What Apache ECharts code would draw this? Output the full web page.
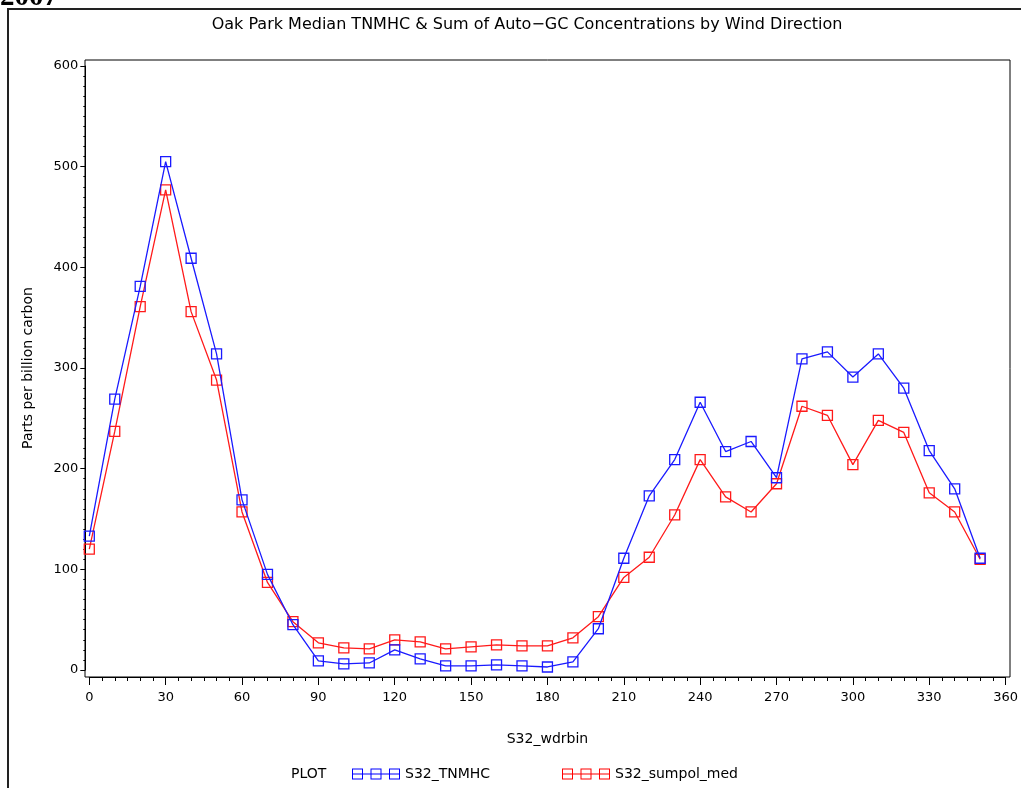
<!DOCTYPE html>
<html>
<head>
<meta charset="utf-8">
<script src="https://cdn.jsdelivr.net/npm/echarts@6/dist/echarts.min.js"></script>
<style>
html,body{margin:0;padding:0;background:#fff;}
#chart{width:1021px;height:788px;}
</style>
</head>
<body>
<div id="chart"></div>
<script>
// Wind direction bins (degrees)
var wdrbin = [0,10,20,30,40,50,60,70,80,90,100,110,120,130,140,150,160,170,180,190,200,210,220,230,240,250,260,270,280,290,300,310,320,330,340,350];
// S32_TNMHC median (ppbC)
var tnmhc = [133,269,381,505,409,314,169,95,45,9,6,7,20,11,4,4,5,4,3,8,41,111,173,209,266,217,227,191,309,316,291,314,280,218,180,111];
// S32_sumpol_med (ppbC)
var sumpol = [120,237,361,477,356,288,157,87,48,27,22,21,30,28,21,23,25,24,24,32,53,92,112,154,209,172,157,185,262,253,204,248,236,176,157,110];
var xTicks = [0,30,60,90,120,150,180,210,240,270,300,330,360];
var yTicks = [0,100,200,300,400,500,600];
var titleText = 'Oak Park Median TNMHC & Sum of Auto\u2212GC Concentrations by Wind Direction';
var seriesNames = ['S32_TNMHC','S32_sumpol_med'];

function pairs(xs, ys){ return xs.map(function(x,i){ return [x, ys[i]]; }); }

// legend icon: line with three hollow squares (48 x 11)
function iconPath(){
  var p = 'path://M0 5h48v1h-48z';
  [0,18.5,37].forEach(function(x0){
    p += 'M'+x0+' 0h11v1h-11z';
    p += 'M'+x0+' 10h11v1h-11z';
    p += 'M'+x0+' 0h1v11h-1z';
    p += 'M'+(x0+10)+' 0h1v11h-1z';
  });
  return p;
}

var FONT = 'DejaVu Sans';
var chart = echarts.init(document.getElementById('chart'), null, {renderer:'canvas'});
var option = {
  backgroundColor:'#fff',
  animation:false,
  title:{
    text:titleText,
    left:522, top:12, textAlign:'center',
    textStyle:{fontFamily:FONT, fontSize:16, fontWeight:'normal', color:'#000'}
  },
  grid:{left:89.3, right:14.3, top:66, bottom:118},
  xAxis:{
    type:'value', min:xTicks[0], max:xTicks[xTicks.length-1], interval:30,
    offset:7,
    name:'S32_wdrbin', nameLocation:'middle', nameGap:55,
    nameTextStyle:{fontFamily:FONT, fontSize:14, color:'#000'},
    axisLine:{show:true, onZero:false, lineStyle:{color:'#000', width:1}},
    axisTick:{show:true, length:8, lineStyle:{color:'#000'}},
    minorTick:{show:true, splitNumber:6, length:4, lineStyle:{color:'#000'}},
    axisLabel:{fontFamily:FONT, fontSize:13, color:'#000', margin:14},
    splitLine:{show:false}
  },
  yAxis:{
    type:'value', min:yTicks[0], max:yTicks[yTicks.length-1], interval:100,
    offset:4,
    name:'Parts per billion carbon', nameLocation:'middle', nameGap:50, nameRotate:90,
    nameTextStyle:{fontFamily:FONT, fontSize:14, color:'#000'},
    axisLine:{show:true, onZero:false, lineStyle:{color:'#000', width:1}},
    axisTick:{show:true, length:5, lineStyle:{color:'#000'}},
    minorTick:{show:true, splitNumber:10, length:2, lineStyle:{color:'#000'}},
    axisLabel:{fontFamily:FONT, fontSize:13, color:'#000', margin:7},
    splitLine:{show:false}
  },
  legend:[
    {left:352, top:767, padding:0, itemWidth:48, itemHeight:11, itemGap:0,
     textStyle:{fontFamily:FONT, fontSize:14, color:'#000'},
     data:[{name:seriesNames[0], icon:iconPath(), itemStyle:{color:'#0000ff', borderWidth:0}}]},
    {left:562, top:767, padding:0, itemWidth:48, itemHeight:11, itemGap:0,
     textStyle:{fontFamily:FONT, fontSize:14, color:'#000'},
     data:[{name:seriesNames[1], icon:iconPath(), itemStyle:{color:'#ff0000', borderWidth:0}}]}
  ],
  graphic:[
    {type:'rect', shape:{x:8, y:9, width:1040, height:800}, style:{fill:'none', stroke:'#222', lineWidth:2}, silent:true, z:-1},
    {type:'rect', shape:{x:85, y:60, width:925, height:617}, style:{fill:'none', stroke:'#000', lineWidth:1}, silent:true, z:-1},
    {type:'text', x:0, y:12, style:{text:'2007', font:'bold 29px "Liberation Serif"', fill:'#000', verticalAlign:'bottom', align:'left'}, silent:true},
    {type:'text', left:291, top:767, style:{text:'PLOT', font:'14px "DejaVu Sans"', fill:'#000'}, silent:true}
  ],
  series:[
    {name:seriesNames[0], type:'line', data:pairs(wdrbin, tnmhc),
     symbol:'rect', symbolSize:10,
     itemStyle:{color:'rgba(0,0,0,0)', borderColor:'#1a1aff', borderWidth:1.3},
     lineStyle:{color:'#1a1aff', width:1.3}, z:3},
    {name:seriesNames[1], type:'line', data:pairs(wdrbin, sumpol),
     symbol:'rect', symbolSize:10,
     itemStyle:{color:'rgba(0,0,0,0)', borderColor:'#ff1a1a', borderWidth:1.3},
     lineStyle:{color:'#ff1a1a', width:1.3}, z:2}
  ]
};
chart.setOption(option);
</script>
</body>
</html>
